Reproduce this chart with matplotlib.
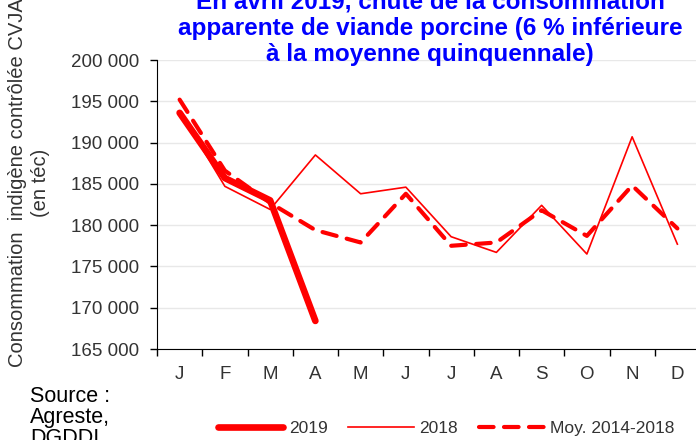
import matplotlib
matplotlib.use("Agg")
import matplotlib.pyplot as plt

plt.rcParams['font.family'] = ['Liberation Sans', 'DejaVu Sans']

months = ["J", "F", "M", "A", "M", "J", "J", "A", "S", "O", "N", "D"]
v2019 = [193600, 185700, 183000, 168400]
v2018 = [193800, 184700, 181900, 188500, 183800, 184600, 178600, 176700, 182400, 176500, 190700, 177700]
vmoy = [195200, 186600, 182700, 179400, 177900, 183800, 177500, 177900, 181800, 178700, 184800, 179600]
yticks = [165000, 170000, 175000, 180000, 185000, 190000, 195000, 200000]

title_lines = ["En avril 2019, chute de la consommation",
               "apparente de viande porcine (6 % inférieure",
               "à la moyenne quinquennale)"]
ylabel_lines = ["Consommation  indigène contrôlée CVJA", "(en téc)"]
source_lines = ["Source :", "Agreste,", "DGDDI"]

red = "#FF0000"
txt = "#333333"

fig = plt.figure(figsize=(6.96, 4.4), dpi=100)
ax = fig.add_axes([157/696, 1-349/440, 543/696, 289/440])

x19 = list(range(len(v2019)))
x = list(range(len(months)))
ax.plot(x, vmoy, color=red, lw=3, linestyle=(0, (3.5, 2.5)), dash_capstyle='round', label="Moy. 2014-2018", zorder=3)
ax.plot(x, v2018, color=red, lw=1.2, label="2018", zorder=4)
ax.plot(x19, v2019, color=red, lw=4.8, solid_capstyle='round', label="2019", zorder=5)

ax.set_xlim(-0.5, 11.5)
ax.set_ylim(165000, 200000)
ax.set_yticks(yticks)
ax.set_yticklabels([f"{v:,}".replace(",", " ") for v in yticks])
ax.set_xticks([i - 0.5 for i in range(13)])
ax.set_xticklabels([])
ax.set_xticks(x, minor=True)
ax.set_xticklabels(months, minor=True)
ax.tick_params(axis='x', which='minor', length=0, pad=12, labelsize=13.5, labelcolor=txt)
ax.tick_params(axis='x', which='major', length=5, width=1, direction='out')
ax.tick_params(axis='y', length=5, width=1, direction='out', pad=8, labelsize=13.5, labelcolor=txt)
ax.grid(axis='y', color='#E8E8E8', lw=1)
ax.set_axisbelow(True)
for s in ['top', 'right']:
    ax.spines[s].set_visible(False)
ax.spines['left'].set_color('black')
ax.spines['bottom'].set_color('black')

# Title (top line partly cut by the figure edge, as in the reference)
for i, line in enumerate(title_lines):
    fig.text(430/696, 1 - (9 + 26*i)/440, line, ha='center', va='baseline', color='#0000FF',
             fontsize=17.5, fontweight='bold')

# Y label (two rotated lines)
for xpx, line in zip([18, 41], ylabel_lines):
    fig.text(xpx/696, 1 - 183/440, line, rotation=90, ha='center', va='center', fontsize=14.5, color=txt)

# Source
for i, line in enumerate(source_lines):
    fig.text(30/696, 1 - (402 + 21*i)/440, line, ha='left', va='baseline', fontsize=15.5, color='black')

h, l = ax.get_legend_handles_labels()
order = [2, 1, 0]
fig.legend([h[i] for i in order], [l[i] for i in order], loc='center', bbox_to_anchor=(446/696, 1 - 428/440),
           ncol=3, frameon=False, fontsize=12.5, handlelength=3.8, handletextpad=0.3, columnspacing=1.2,
           labelcolor=txt)

fig.savefig("out.png", dpi=100)
